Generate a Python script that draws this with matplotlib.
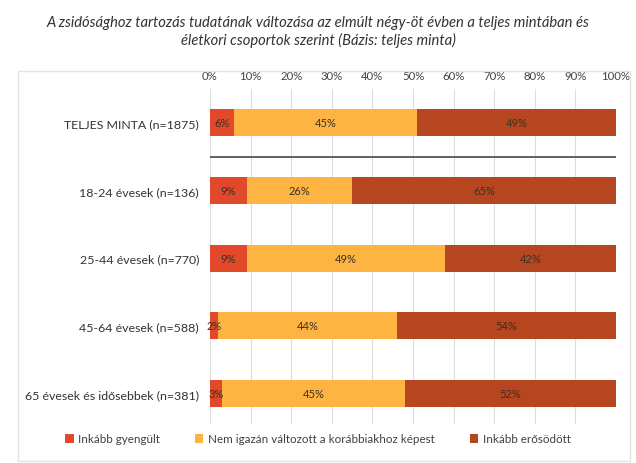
import matplotlib
matplotlib.use('Agg')
import matplotlib.pyplot as plt
from matplotlib.patches import Rectangle
import numpy as np

plt.rcParams['font.family'] = ['Lato', 'DejaVu Sans']

# Adatok
categories = ['TELJES MINTA (n=1875)', '18-24 évesek (n=136)', '25-44 évesek (n=770)',
              '45-64 évesek (n=588)', '65 évesek és idősebbek (n=381)']
gyengult = [6, 9, 9, 2, 3]
nem_valtozott = [45, 26, 49, 44, 45]
erosodott = [49, 65, 42, 54, 52]
series_names = ['Inkább gyengült', 'Nem igazán változott a korábbiakhoz képest', 'Inkább erősödött']
colors = ['#E2492A', '#FDB443', '#B6461F']
ticks = list(range(0, 101, 10))

title = ('A zsidósághoz tartozás tudatának változása az elmúlt négy-öt évben a teljes mintában és\n'
         'életkori csoportok szerint (Bázis: teljes minta)')

fig = plt.figure(figsize=(6.36, 4.64), dpi=100)
fig.patches.append(Rectangle((18 / 636, 2 / 464), 612 / 636, 390 / 464, transform=fig.transFigure,
                             fill=False, edgecolor='#e3e3e3', linewidth=1))
fig.text(0.5, 1 - 32 / 464, title, ha='center', va='center', fontsize=10.6, style='italic',
         color='#333333', linespacing=1.3)

ax = fig.add_axes([210 / 636, 1 - 425 / 464, 406 / 636, 335 / 464])
y = np.arange(len(categories))
left = np.zeros(len(categories))
for vals, name, col in zip([gyengult, nem_valtozott, erosodott], series_names, colors):
    vals = np.array(vals)
    ax.barh(y, vals, left=left, height=0.4, color=col, label=name, zorder=3)
    for yi, l, v in zip(y, left, vals):
        ax.text(l + v / 2, yi, f'{v}%', ha='center', va='center', fontsize=8, color='#3a3020', zorder=4)
    left += vals

ax.axhline(0.5, color='#555555', linewidth=1.3, zorder=3)
ax.set_xlim(0, 100)
ax.set_ylim(4.45, -0.5)
ax.set_xticks(ticks)
ax.set_xticklabels([f'{t}%' for t in ticks], fontsize=8.2, color='#404040')
ax.xaxis.tick_top()
ax.tick_params(axis='x', length=0, pad=6)
ax.set_yticks(y)
ax.set_yticklabels(categories, fontsize=8.9, color='#333333')
ax.tick_params(axis='y', length=0, pad=8)
ax.grid(axis='x', color='#dedede', linewidth=0.8, zorder=0)
for s in ax.spines.values():
    s.set_visible(False)

fig.legend(loc='center', bbox_to_anchor=(0.5, 1 - 440 / 464), ncol=3, frameon=False, fontsize=8.4,
           handlelength=0.7, handleheight=0.7, handletextpad=0.4, columnspacing=3.0, labelcolor='#404040')

fig.savefig('out.png', dpi=100)
